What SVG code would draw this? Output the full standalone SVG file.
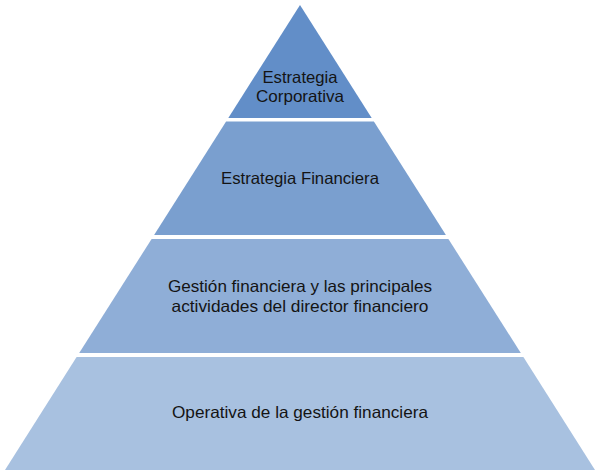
<svg xmlns="http://www.w3.org/2000/svg" width="600" height="475" viewBox="0 0 600 475">
<style>
text{font-family:"Liberation Sans",Arial,sans-serif;font-size:16.5px;fill:#141414;text-anchor:middle}
</style>
<rect width="600" height="475" fill="#fff"/>
<g id="layer1">
<polygon points="300,5 228.3,118 371.7,118" fill="#628ec8"/>
<text x="300" y="83" textLength="75" lengthAdjust="spacingAndGlyphs">Estrategia</text>
<text x="300" y="102" textLength="88" lengthAdjust="spacingAndGlyphs">Corporativa</text>
</g>
<g id="layer2">
<polygon points="226.1,121.5 373.9,121.5 445.9,235 154.1,235" fill="#7a9fcf"/>
<text x="300" y="184" textLength="158" lengthAdjust="spacingAndGlyphs">Estrategia Financiera</text>
</g>
<g id="layer3">
<polygon points="151.6,239 448.4,239 520.8,353 79.2,353" fill="#8faed7"/>
<text x="300" y="292" textLength="264" lengthAdjust="spacingAndGlyphs">Gestión financiera y las principales</text>
<text x="300" y="312" textLength="257" lengthAdjust="spacingAndGlyphs">actividades del director financiero</text>
</g>
<g id="layer4">
<polygon points="76.6,357 523.4,357 595,470 5,470" fill="#a8c1e0"/>
<text x="300" y="418" textLength="256" lengthAdjust="spacingAndGlyphs">Operativa de la gestión financiera</text>
</g>
<g id="connectors"/>
</svg>
